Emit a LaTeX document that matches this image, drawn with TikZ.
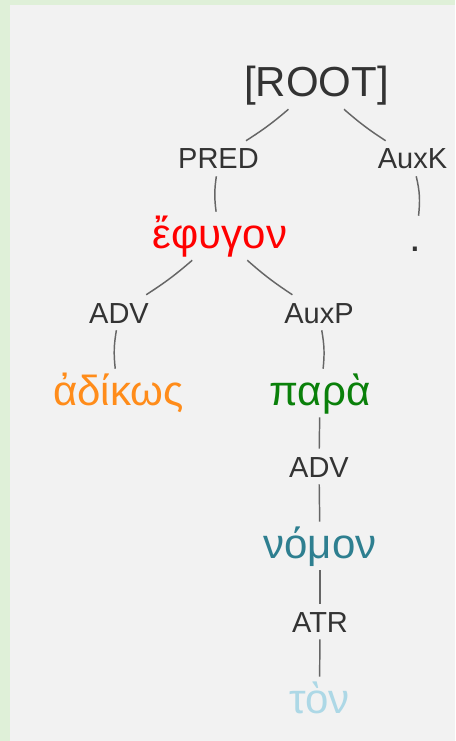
\documentclass[tikz,border=0pt]{standalone}
\usepackage{fontspec}
\setmainfont{Liberation Sans}
\usepackage{xcolor}
\usepackage{tikz}

\definecolor{panelbg}{HTML}{F2F2F2}
\definecolor{framebg}{HTML}{DFF0D8}
\definecolor{labelfg}{HTML}{333333}
\definecolor{edgefg}{HTML}{666666}
\definecolor{adikosfg}{HTML}{FF8C1A}
\definecolor{parafg}{HTML}{0A800A}
\definecolor{nomonfg}{HTML}{2E7F90}
\definecolor{tonfg}{HTML}{ADD8E6}

\tikzset{
  word/.style={anchor=base, inner xsep=2pt, inner ysep=2.25pt,
    text height=24.75pt, text depth=6.75pt,
    font=\fontsize{31.5}{36}\selectfont},
  rel/.style={anchor=base, inner xsep=2pt, inner ysep=1.5pt,
    text height=19.5pt, text depth=3.75pt, text=labelfg,
    font=\fontsize{21.75}{26}\selectfont},
  edge/.style={draw=edgefg, line width=1.1pt}
}

\begin{document}
\begin{tikzpicture}[x=0.75pt, y=-0.75pt]
\fill[framebg] (0,0) rectangle (455,741);
\fill[panelbg] (10,5) rectangle (455,741);

\node[word, text=labelfg] (root) at (316.5, 97) {[ROOT]};
\node[rel] (pred) at (218.5, 169) {PRED};
\node[rel] (auxk) at (412.5, 169) {AuxK};
\node[word, text=red] (efygon) at (220, 248) {ἔφυγον};
\node[word, text=labelfg] (dot) at (415, 252) {.};
\node[rel] (adv) at (119, 323) {ADV};
\node[rel] (auxp) at (319, 323) {AuxP};
\node[word, text=adikosfg] (adikos) at (118.5, 405) {ἀδίκως};
\node[word, text=parafg] (para) at (320, 405) {παρὰ};
\node[rel] (advb) at (319, 477) {ADV};
\node[word, text=nomonfg] (nomon) at (320, 558) {νόμον};
\node[rel] (atr) at (320, 632) {ATR};
\node[word, text=tonfg] (ton) at (319.5, 713) {τὸν};

\draw[edge] (root) to[bend left=4] (pred);
\draw[edge] (root) to[bend right=4] (auxk);
\draw[edge] (pred) to[bend right=8] (efygon);
\draw[edge] (auxk) to[bend left=10] (dot);
\draw[edge] (efygon) to[bend left=4] (adv);
\draw[edge] (efygon) to[bend right=4] (auxp);
\draw[edge] (adv) to[bend right=8] (adikos);
\draw[edge] (auxp) to[bend left=8] (para);
\draw[edge] (para) -- (advb);
\draw[edge] (advb) -- (nomon);
\draw[edge] (nomon) -- (atr);
\draw[edge] (atr) -- (ton);
\end{tikzpicture}
\end{document}
